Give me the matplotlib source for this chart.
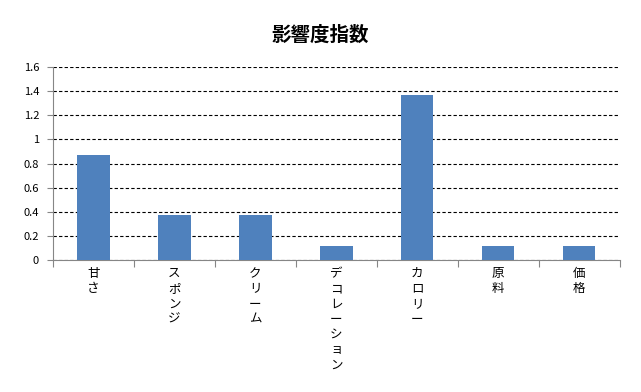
import matplotlib
matplotlib.use('Agg')
import matplotlib.pyplot as plt
import numpy as np

plt.rcParams['font.family'] = ['Noto Sans CJK JP', 'DejaVu Sans']

# Daten
kategorien = ['甘さ', 'スポンジ', 'クリーム', 'デコレーション', 'カロリー', '原料', '価格']
werte = [0.87, 0.37, 0.37, 0.12, 1.37, 0.12, 0.12]
y_ticks = [0, 0.2, 0.4, 0.6, 0.8, 1, 1.2, 1.4, 1.6]
y_labels = ['0', '0.2', '0.4', '0.6', '0.8', '1', '1.2', '1.4', '1.6']

fig = plt.figure(figsize=(6.41, 3.92), dpi=100)
ax = fig.add_axes([0.0827, 0.3367, 0.884, 0.4923])

x = np.arange(len(kategorien))
ax.bar(x, werte, width=0.4, color='#4F81BD', zorder=3)

ax.set_xlim(-0.5, len(kategorien) - 0.5)
ax.set_ylim(0, 1.6)
ax.set_yticks(y_ticks)
ax.set_yticklabels(y_labels, fontsize=8)
ax.yaxis.grid(True, linestyle=(0, (3, 2)), color='black', linewidth=0.8)
ax.set_axisbelow(True)

# Kategorie-Grenzen als Ticks
ax.set_xticks(np.arange(len(kategorien) + 1) - 0.5)
ax.set_xticklabels([])
ax.tick_params(axis='x', length=5, color='#868686', direction='out')
ax.tick_params(axis='y', length=4, color='#868686', pad=6)

for i, name in enumerate(kategorien):
    ax.text(i, -0.06, '\n'.join(name), ha='center', va='top', fontsize=9,
            linespacing=1.22, transform=ax.transData)

for side in ['top', 'right']:
    ax.spines[side].set_visible(False)
ax.spines['left'].set_color('#868686')
ax.spines['bottom'].set_color('#868686')

fig.text(0.5, 0.91, '影響度指数', ha='center', va='center', fontsize=14, fontweight='bold')

plt.savefig('out.png', dpi=100)
plt.close(fig)
